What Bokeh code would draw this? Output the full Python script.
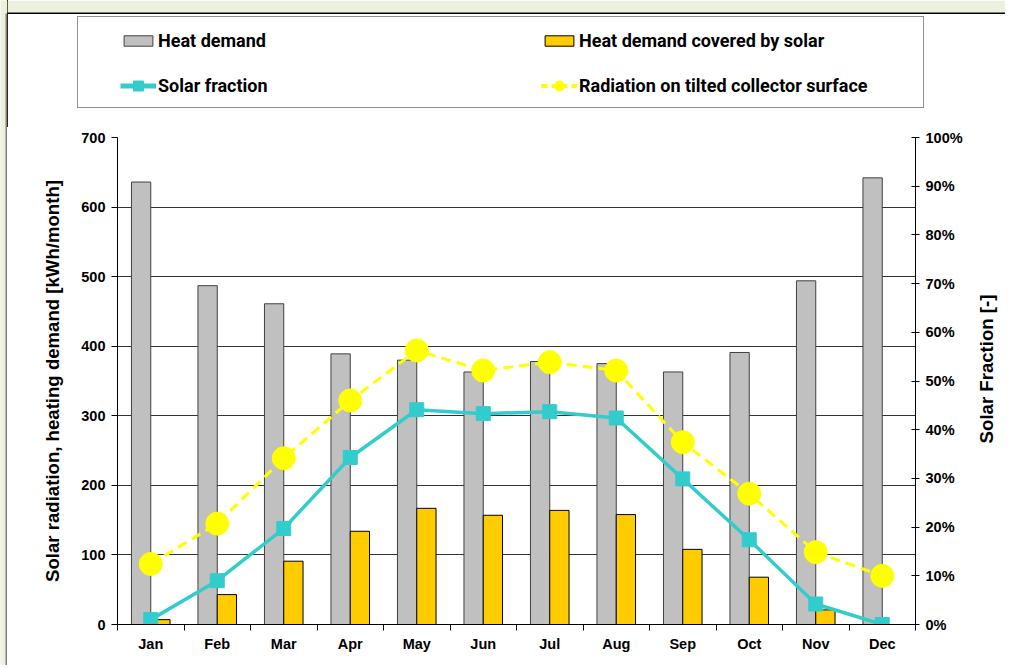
from bokeh.plotting import figure
from bokeh.models import (Range1d, LinearAxis, FixedTicker, NumeralTickFormatter, Legend,
                          LegendItem, BoxAnnotation, ColumnDataSource, Label)
from bokeh.layouts import row, column
from bokeh.transform import dodge
from bokeh.embed import file_html
from bokeh.resources import INLINE
import math

months = ["Jan", "Feb", "Mar", "Apr", "May", "Jun", "Jul", "Aug", "Sep", "Oct", "Nov", "Dec"]
heat_demand = [636, 487, 461, 389, 380, 363, 378, 375, 363, 391, 494, 642]
solar_covered = [7, 43, 91, 134, 167, 157, 164, 158, 108, 68, 21, 0]
solar_fraction = [0.01, 0.09, 0.197, 0.343, 0.441, 0.433, 0.437, 0.424, 0.299, 0.174, 0.042, 0.0]
radiation = [87, 145, 239, 322, 394, 365, 377, 365, 262, 188, 104, 70]

left_ticks = [0, 100, 200, 300, 400, 500, 600, 700]
right_ticks = [0.0, 0.1, 0.2, 0.3, 0.4, 0.5, 0.6, 0.7, 0.8, 0.9, 1.0]

xs = list(range(1, len(months) + 1))
src = ColumnDataSource(dict(x=xs, hd=heat_demand, sc=solar_covered, sf=solar_fraction, rad=radiation))

LEGFONT = "Roboto, 'Liberation Sans', sans-serif"
SANS = "'Liberation Sans', Arial, sans-serif"

GREY, GREY_LINE = "#C0C0C0", "#404040"
GOLD = "#FFCC00"
YEL = "#FFFF00"
CYAN = "#33CCCC"
BG = "#EBF1DE"

STRIP_W = 7
TOTAL_W, TOTAL_H = 1005, 665
MAIN_W = TOTAL_W - STRIP_W
RT_W = 30
LEG_H = 127
CH_H = TOTAL_H - LEG_H
P_W = MAIN_W - RT_W
FL, FT = 110, 10
FW, FH = 798, 487
FR = P_W - FL - FW
FB = CH_H - FT - FH


def no_align(f):
    if "frame_align" in f.properties():
        f.frame_align = False
    return f


def bare(w, h):
    f = figure(width=w, height=h, x_range=Range1d(20, 21), y_range=Range1d(0, 1),
               output_backend="svg", toolbar_location=None,
               x_axis_location=None, y_axis_location=None,
               min_border=0, min_border_left=0, min_border_right=0,
               min_border_top=0, min_border_bottom=0)
    f.xgrid.grid_line_color = None
    f.ygrid.grid_line_color = None
    f.outline_line_color = None
    f.background_fill_color = "white"
    f.border_fill_color = "white"
    return no_align(f)


def cbox(**kw):
    return BoxAnnotation(left_units="canvas", right_units="canvas",
                         top_units="canvas", bottom_units="canvas", **kw)


# ---------- left strip (page background and frame edge) ----------
strip = bare(STRIP_W, TOTAL_H)
strip.background_fill_color = BG
strip.border_fill_color = BG
strip.add_layout(cbox(left=5, right=7, top=13, bottom=TOTAL_H,
                      fill_color="#808080", fill_alpha=1, line_color=None))

# ---------- legend strip ----------
lf = bare(MAIN_W, LEG_H)
lf.add_layout(cbox(left=0, right=MAIN_W, top=0, bottom=12,
                   fill_color=BG, fill_alpha=1, line_color=None))
lf.add_layout(cbox(left=0, right=MAIN_W, top=12, bottom=13.5,
                   fill_color="black", fill_alpha=1, line_color=None))

# legend proxies: same data, drawn outside this strip's visible range
d_hd = lf.vbar(x="x", top="hd", width=0.1, source=src, fill_color=GREY, line_color=GREY_LINE)
d_sc = lf.vbar(x="x", top="sc", width=0.1, source=src, fill_color=GOLD, line_color="black")
d_sl = lf.line(x="x", y="sf", source=src, line_color=CYAN, line_width=5)
d_ss = lf.scatter(x="x", y="sf", source=src, marker="square", size=10,
                  fill_color=CYAN, line_color=CYAN)
d_rl = lf.line(x="x", y="rad", source=src, line_color=YEL, line_width=4, line_dash="6 4")
d_rc = lf.scatter(x="x", y="rad", source=src, marker="circle", size=10,
                  fill_color=YEL, line_color=YEL)
d_box = lf.scatter(x="x", y="rad", source=src, marker="circle", size=1,
                   fill_alpha=0, line_alpha=0)

box_legend = Legend(items=[LegendItem(label=" ", renderers=[d_box])],
                    location=(70, LEG_H - 108), glyph_width=1, glyph_height=1,
                    label_standoff=0, label_width=844, label_height=90, padding=0, margin=0,
                    spacing=0, border_line_color="#222222", border_line_width=1.2,
                    background_fill_color="white", background_fill_alpha=1,
                    label_text_font_size="10px")
lf.add_layout(box_legend, "center")

legend_style = dict(ncols=2, orientation="horizontal", glyph_width=36, label_standoff=2,
                    label_width=358, padding=0, margin=0, spacing=25,
                    border_line_color=None, background_fill_alpha=0,
                    label_text_font=LEGFONT, label_text_font_style="bold",
                    label_text_font_size="18px", label_text_color="black",
                    label_text_baseline="middle")

ROW1_H = 24
bars_legend = Legend(items=[
    LegendItem(label="Heat demand", renderers=[d_hd]),
    LegendItem(label="Heat demand covered by solar", renderers=[d_sc]),
], location=(113, LEG_H - (40 + ROW1_H / 2)), glyph_height=13, label_height=ROW1_H,
    **legend_style)
lf.add_layout(bars_legend, "center")

ROW2_H = 25
lines_legend = Legend(items=[
    LegendItem(label="Solar fraction", renderers=[d_sl, d_ss]),
    LegendItem(label="Radiation on tilted collector surface", renderers=[d_rl, d_rc]),
], location=(113, LEG_H - (85 + ROW2_H / 2)), glyph_height=ROW2_H, label_height=ROW2_H,
    **legend_style)
lf.add_layout(lines_legend, "center")

# ---------- chart ----------
p = figure(width=P_W, height=CH_H, x_range=Range1d(0.5, 12.5), y_range=Range1d(0, 700),
           output_backend="svg", toolbar_location=None,
           min_border_left=FL, min_border_right=FR, min_border_top=FT, min_border_bottom=FB)
no_align(p)
p.extra_y_ranges = {"sf": Range1d(0, 1)}
p.outline_line_color = None
p.background_fill_color = "white"
p.border_fill_color = "white"

p.yaxis.ticker = FixedTicker(ticks=left_ticks)
p.yaxis.axis_label = "Solar radiation, heating demand [kWh/month]"
p.xaxis.ticker = FixedTicker(ticks=xs, minor_ticks=[i + 0.5 for i in range(0, 13)])
p.xaxis.major_label_overrides = {i: m for i, m in zip(xs, months)}

ax_r = LinearAxis(y_range_name="sf", ticker=FixedTicker(ticks=right_ticks),
                  formatter=NumeralTickFormatter(format="0%"))
p.add_layout(ax_r, "right")

for ax in [p.xaxis[0], p.yaxis[0], ax_r]:
    ax.axis_line_color = "black"
    ax.axis_line_width = 1
    ax.major_label_text_font = SANS
    ax.major_label_text_font_style = "bold"
    ax.major_label_text_font_size = "14.5px"
    ax.major_label_text_color = "black"
    ax.axis_label_text_font = SANS
    ax.axis_label_text_font_style = "bold"
    ax.axis_label_text_font_size = "18.6px"
    ax.axis_label_text_color = "black"
    ax.major_tick_line_color = "black"
    ax.minor_tick_line_color = "black"

p.yaxis.major_tick_out = 6
p.yaxis.major_tick_in = 0
p.yaxis.minor_tick_line_color = None
p.yaxis.major_label_standoff = 6
p.yaxis.axis_label_standoff = 15

ax_r.major_tick_out = 4
ax_r.major_tick_in = 4
ax_r.minor_tick_line_color = None
ax_r.major_label_standoff = 6

p.xaxis.major_tick_out = 0
p.xaxis.major_tick_in = 0
p.xaxis.minor_tick_out = 6
p.xaxis.minor_tick_in = 0
p.xaxis.major_label_standoff = 5

p.xgrid.grid_line_color = None
p.ygrid.ticker = FixedTicker(ticks=left_ticks)
p.ygrid.grid_line_color = "#333333"
p.ygrid.grid_line_width = 1

p.vbar(x=dodge("x", -0.145), top="hd", width=0.29, source=src,
       fill_color=GREY, line_color=GREY_LINE, line_width=1)
p.vbar(x=dodge("x", 0.145), top="sc", width=0.29, source=src,
       fill_color=GOLD, line_color="black", line_width=1)

p.line("x", "rad", source=src, line_color=YEL, line_width=3, line_dash="10 6")
p.scatter("x", "rad", source=src, marker="circle", size=23, fill_color=YEL, line_color=YEL)

p.line("x", "sf", source=src, y_range_name="sf", line_color=CYAN, line_width=3.5)
p.scatter("x", "sf", source=src, y_range_name="sf", marker="square", size=14,
          fill_color=CYAN, line_color=CYAN)

# ---------- right title strip ----------
rt = bare(RT_W, CH_H)
rt.add_layout(Label(x=RT_W / 2 - 4, y=FB + FH / 2 + 12, x_units="screen", y_units="screen",
                    text="Solar Fraction [-]", angle=math.pi / 2,
                    text_align="center", text_baseline="middle",
                    text_font=SANS, text_font_style="bold", text_font_size="18.6px",
                    text_color="black"))

layout = row(strip, column(lf, row(p, rt, spacing=0), spacing=0), spacing=0)

open("out.html", "w").write(file_html(layout, INLINE))
